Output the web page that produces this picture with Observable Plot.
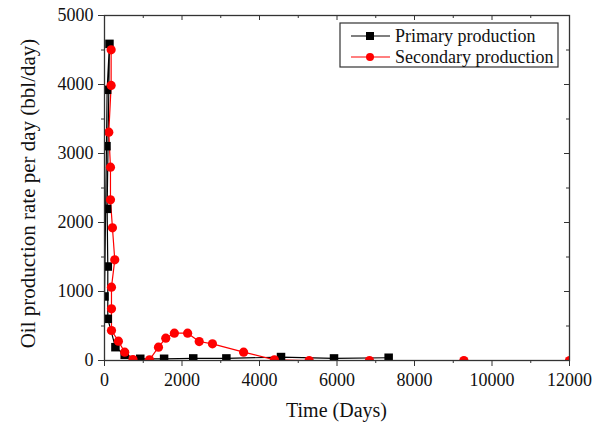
<!DOCTYPE html>
<html><head><meta charset="utf-8">
<script src="https://cdn.jsdelivr.net/npm/d3@7"></script>
<script src="https://cdn.jsdelivr.net/npm/@observablehq/plot@0.6"></script>
<style>
body{margin:0;background:#fff}
#chart{width:596px;height:430px}
</style>
</head><body><div id="chart"></div>
<script>
// ---- data ----
const seriesNames = ["Primary production", "Secondary production"];
const seriesColors = ["#000000", "#ff0000"];

const primaryDays = [0, 51, 68, 128, 68, 85, 85, 282, 521, 923, 1538, 2290, 3145, 4555, 5923, 7333];
const primaryRate = [928, 3106, 3923, 4589, 2198, 1362, 604, 193, 82, 25, 25, 30, 30, 50, 30, 40];

const secondaryDays = [171, 171, 111, 154, 154, 205, 265, 180, 180, 180, 359, 521, 735, 1162, 1393, 1581, 1803, 2145, 2444, 2786, 3590, 4385, 5282, 6838, 9274, 12000];
const secondaryRate = [4502, 3986, 3309, 2802, 2329, 1923, 1459, 1063, 749, 435, 280, 121, 14, 10, 193, 324, 396, 396, 275, 241, 121, 10, 0, 0, 0, 0];

const xTicks = [0, 2000, 4000, 6000, 8000, 10000, 12000];
const xMinor = [1000, 3000, 5000, 7000, 9000, 11000];
const yTicks = [0, 1000, 2000, 3000, 4000, 5000];
const yMinor = [500, 1500, 2500, 3500, 4500];
const xTitle = "Time (Days)";
const yTitle = "Oil production rate per day (bbl/day)";

const primary = primaryDays.map((d, i) => ({day: d, rate: primaryRate[i]}));
const secondary = secondaryDays.map((d, i) => ({day: d, rate: secondaryRate[i]}));

const W = 596, H = 430, ML = 104, MR = 27, MT = 15, MB = 70;
const PW = W - ML - MR, PH = H - MT - MB;
const axisColor = "#333";
const font = "'Liberation Serif', 'Times New Roman', serif";
const fmt = d => String(d);

const plot = Plot.plot({
  width: W, height: H,
  marginLeft: ML, marginRight: MR, marginTop: MT, marginBottom: MB,
  style: {fontFamily: font, fontSize: "18px", color: "#111", background: "white"},
  x: {domain: [0, 12000]},
  y: {domain: [0, 5000]},
  marks: [
    Plot.line(primary, {x: "day", y: "rate", stroke: seriesColors[0], strokeWidth: 1.2, clip: true}),
    Plot.line(secondary, {x: "day", y: "rate", stroke: seriesColors[1], strokeWidth: 1.2, clip: true}),
    Plot.dot(primary, {x: "day", y: "rate", symbol: "square", r: 4.8, fill: seriesColors[0], clip: true}),
    Plot.dot(secondary, {x: "day", y: "rate", symbol: "circle", r: 4.6, fill: seriesColors[1], clip: true}),
    // top inward ticks
    Plot.ruleX(xTicks, {x: d => d, insetBottom: PH - 5, stroke: axisColor}),
    Plot.ruleX(xMinor, {x: d => d, insetBottom: PH - 3, stroke: axisColor}),
    // right inward ticks
    Plot.ruleY(yTicks, {y: d => d, insetLeft: PW - 5, stroke: axisColor}),
    Plot.ruleY(yMinor, {y: d => d, insetLeft: PW - 3, stroke: axisColor}),
    Plot.frame({stroke: axisColor, strokeWidth: 1.3}),
    Plot.axisX(xTicks, {tickSize: 6, tickPadding: 7, tickFormat: fmt, label: null, stroke: axisColor, fill: "#111"}),
    Plot.axisX(xMinor, {tickSize: 3, text: null, label: null, stroke: axisColor}),
    Plot.axisY(yTicks, {tickSize: 6, tickPadding: 5, tickFormat: fmt, label: null, stroke: axisColor, fill: "#111"}),
    Plot.axisY(yMinor, {tickSize: 3, text: null, label: null, stroke: axisColor})
  ]
});

document.getElementById("chart").appendChild(plot);

// axis titles and legend
const svg = d3.select(plot);
svg.append("text")
  .attr("x", ML + PW / 2).attr("y", 417)
  .attr("text-anchor", "middle")
  .style("font-family", font).style("font-size", "20px").attr("fill", "#111")
  .text(xTitle);
svg.append("text")
  .attr("transform", `translate(35,${MT + PH / 2 + 6}) rotate(-90)`)
  .attr("text-anchor", "middle")
  .style("font-family", font).style("font-size", "21px").attr("fill", "#111")
  .text(yTitle);

const lg = svg.append("g");
lg.append("rect").attr("x", 340).attr("y", 23).attr("width", 218).attr("height", 44)
  .attr("fill", "white").attr("stroke", axisColor).attr("stroke-width", 1.2);
const rows = [36, 57];
seriesNames.forEach((name, i) => {
  const y = rows[i];
  lg.append("line").attr("x1", 351).attr("x2", 390).attr("y1", y).attr("y2", y)
    .attr("stroke", seriesColors[i]).attr("stroke-width", 1.2);
  if (i === 0) {
    lg.append("rect").attr("x", 366).attr("y", y - 4).attr("width", 8).attr("height", 8).attr("fill", seriesColors[i]);
  } else {
    lg.append("circle").attr("cx", 370).attr("cy", y).attr("r", 4).attr("fill", seriesColors[i]);
  }
  lg.append("text").attr("x", 395).attr("y", y).attr("dy", "0.35em")
    .attr("text-anchor", "start")
    .style("font-family", font).style("font-size", "18px").attr("fill", "#111")
    .text(name);
});
</script>
</body></html>
